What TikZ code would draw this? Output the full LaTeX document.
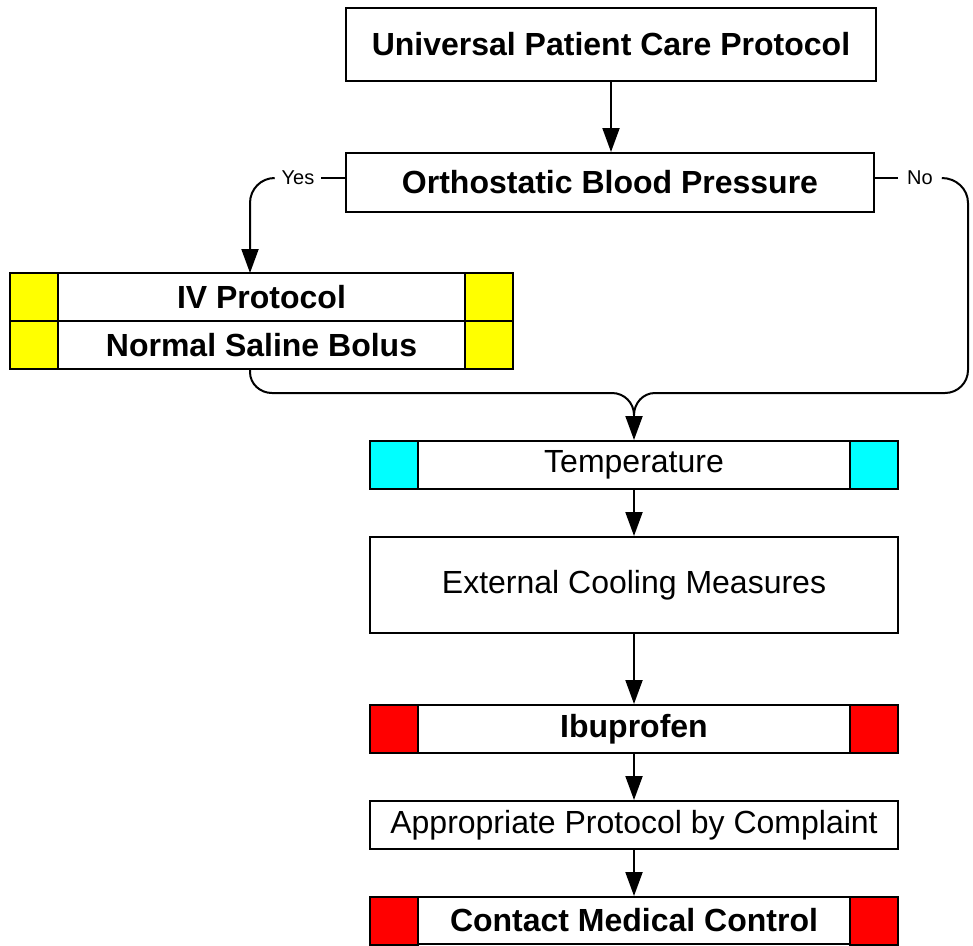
\documentclass[tikz,border=0pt]{standalone}
\usepackage{fontspec}
\setmainfont{Liberation Sans}
\usetikzlibrary{arrows.meta}
\definecolor{tabyellow}{RGB}{255,255,0}
\definecolor{tabcyan}{RGB}{0,255,255}
\definecolor{tabred}{RGB}{255,0,0}
\begin{document}
\begin{tikzpicture}[x=1pt, y=1pt, line width=2pt,
	every node/.style={inner sep=0pt, font=\fontsize{32}{38}\selectfont},
	strong/.style={font=\fontsize{32}{38}\selectfont\bfseries},
	box/.style={rectangle, draw, fill=white, minimum width=528pt, minimum height=48pt},
	tab/.style={rectangle, draw, fill=#1, minimum width=48pt, minimum height=48pt},
	answer/.style={inner sep=6pt, font=\fontsize{20}{24}\selectfont},
	arrow/.style={-{Triangle[length=24pt, width=17pt]}} ]
		\useasboundingbox (0,0) rectangle (973,-945);
		% main column
		\node[box, strong, minimum width=530pt, minimum height=73pt] (ucp) at (611,-44.5) {Universal Patient Care Protocol};
		\node[box, strong, minimum height=59pt] (obp) at (610,-182.5) {Orthostatic Blood Pressure};
		\node[box, strong, minimum width=503pt] (iv) at (261.5,-297) {IV Protocol};
		\node[box, strong, minimum width=503pt] (nsb) at (261.5,-345) {Normal Saline Bolus};
		\node[box] (temp) at (634,-465) {Temperature};
		\node[box, minimum height=96pt] (cool) at (634,-585) {External Cooling Measures};
		\node[box, strong] (ibu) at (634,-729) {Ibuprofen};
		\node[box] (apc) at (634,-825) {Appropriate Protocol by Complaint};
		\node[box, strong, minimum height=47pt] (cmc) at (634,-920.5) {Contact Medical Control};
		% coloured tabs
		\foreach \b/\c in {iv/tabyellow, nsb/tabyellow, temp/tabcyan, ibu/tabred, cmc/tabred} {
			\node[tab=\c, anchor=west] (\b-l) at (\b.west) {};
			\node[tab=\c, anchor=east] (\b-r) at (\b.east) {};
		}
		% branch labels
		\node[answer] (yes) at (298,-178) {Yes};
		\node[answer, inner sep=8pt] (no) at (920,-178) {No};
		\coordinate (ivin) at (250,-273);
		\coordinate (ivout) at (250,-369);
		\coordinate (merge) at (634,-415);
		% connectors
		\draw[arrow] (ucp) -- (ucp |- obp.north);
		\draw (yes.east) -- (yes.east -| obp.west);
		\draw[arrow] (yes.west) to[out=180, in=90] (250,-203) -- (ivin);
		\draw (no.west) -- (no.west -| obp.east);
		\draw (no.east) to[out=0, in=90] (968,-203) -- (968,-370) to[out=-90, in=0] (945,-393) -- (655,-393) to[out=180, in=90] (merge);
		\draw (ivout) -- (250,-372) to[out=-90, in=180] (272,-393) -- (612,-393) to[out=0, in=90] (merge);
		\draw[arrow] (merge) -- (temp.north);
		\foreach \a/\b in {temp/cool, cool/ibu, ibu/apc, apc/cmc}
			\draw[arrow] (\a) -- (\b);
	\end{tikzpicture}
\end{document}
